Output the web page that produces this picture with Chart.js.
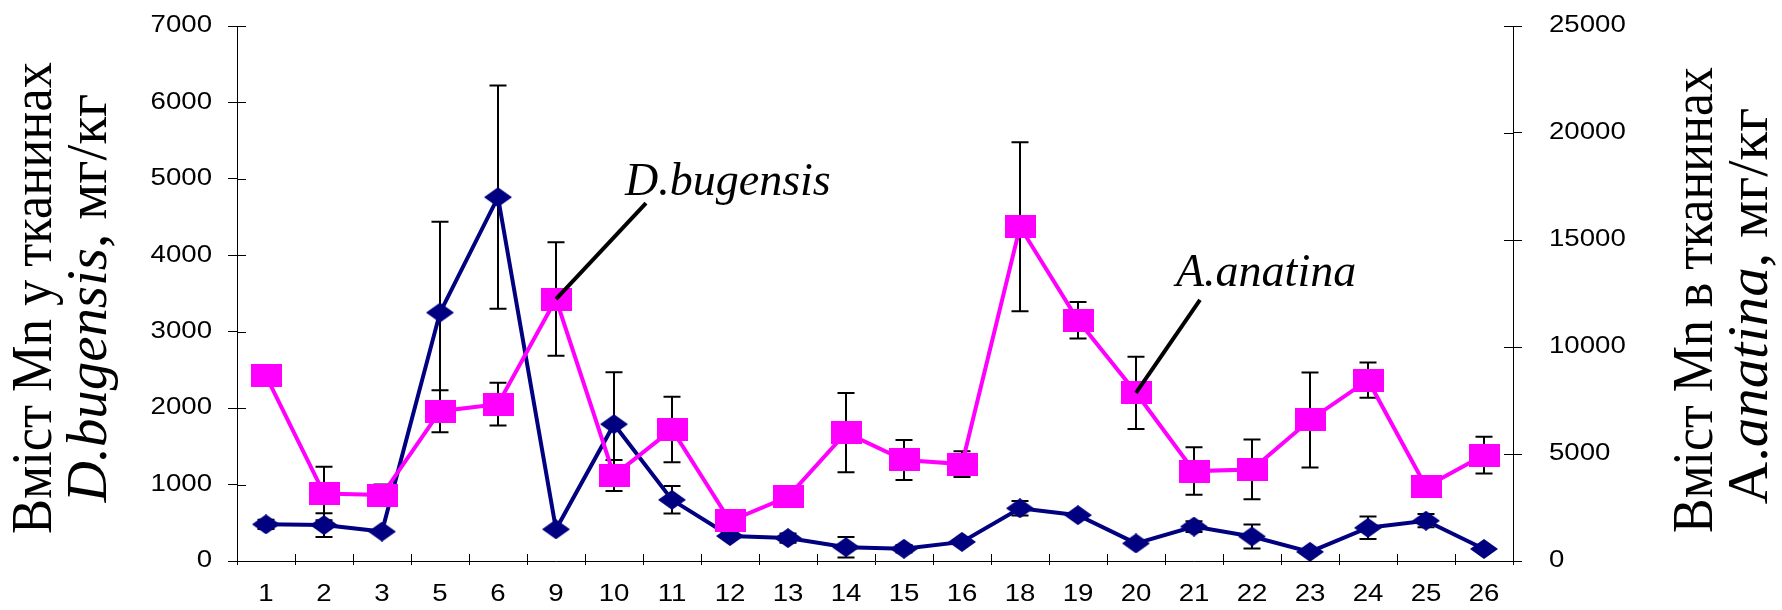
<!DOCTYPE html>
<html>
<head>
<meta charset="utf-8">
<script src="https://cdn.jsdelivr.net/npm/chart.js@4.4.1/dist/chart.umd.min.js"></script>
<style>
  html, body { margin: 0; padding: 0; background: #fff; }
  #wrap { width: 1782px; height: 610px; }
</style>
</head>
<body>
<div id="wrap"><canvas id="mn-chart" width="1782" height="610"></canvas></div>
<script>
// station numbers along the x axis
const stations = ['1', '2', '3', '5', '6', '9', '10', '11', '12', '13', '14', '15', '16', '18', '19', '20', '21', '22', '23', '24', '25', '26'];

// D.bugensis, left axis (mg/kg) and its error bars
const bugensisMn = [480, 470, 385, 3250, 4760, 415, 1790, 800, 327, 300, 180, 160, 250, 690, 600, 230, 450, 320, 120, 435, 527, 157];
const bugensisErr = [60, 155, 0, 1190, 1460, 0, 680, 180, 0, 60, 135, 50, 0, 95, 0, 0, 70, 157, 0, 146, 87, 0];

// A.anatina, right axis (mg/kg) and its error bars
const anatinaMn = [8650, 3150, 3080, 7000, 7330, 12240, 4000, 6150, 1870, 3000, 6000, 4720, 4530, 15620, 11250, 7860, 4200, 4280, 6590, 8450, 3470, 4950];
const anatinaErr = [0, 1250, 500, 980, 1000, 2650, 725, 1530, 0, 0, 1850, 935, 600, 3950, 850, 1690, 1110, 1400, 2220, 820, 0, 860];

// axis ranges
const leftMax = 7000, leftStep = 1000;
const rightMax = 25000, rightStep = 5000;

const NAVY = '#000080';
const MAGENTA = '#ff00ff';
const SERIF = '"Liberation Serif", "Times New Roman", serif';
const SANS = '"Liberation Sans", Arial, sans-serif';
const TICK_FONT = '23px ' + SANS;
const TICK_STRETCH = 1.2; // the source picture is a bit wide

function makeMarker(w, h, color, shape) {
  const c = document.createElement('canvas');
  c.width = w;
  c.height = h;
  const g = c.getContext('2d');
  g.fillStyle = color;
  if (shape === 'diamond') {
    g.beginPath();
    g.moveTo(w / 2, 0);
    g.lineTo(w, h / 2);
    g.lineTo(w / 2, h);
    g.lineTo(0, h / 2);
    g.closePath();
    g.fill();
  } else {
    g.fillRect(0, 0, w, h);
  }
  return c;
}

const diamond = makeMarker(28, 20, NAVY, 'diamond');
const square = makeMarker(31, 23, MAGENTA, 'rect');

// error bars, behind the markers
const errorBars = {
  id: 'errorBars',
  beforeDatasetsDraw(chart) {
    const ctx = chart.ctx;
    ctx.save();
    ctx.strokeStyle = '#000';
    ctx.lineWidth = 2;
    chart.data.datasets.forEach((ds, i) => {
      const meta = chart.getDatasetMeta(i);
      const scale = chart.scales[ds.yAxisID];
      ds.errors.forEach((e, j) => {
        if (!e) return;
        const x = meta.data[j].x;
        const top = scale.getPixelForValue(ds.data[j] + e);
        const bot = scale.getPixelForValue(ds.data[j] - e);
        ctx.beginPath();
        ctx.moveTo(x, top); ctx.lineTo(x, bot);
        ctx.moveTo(x - 8.5, top); ctx.lineTo(x + 8.5, top);
        ctx.moveTo(x - 8.5, bot); ctx.lineTo(x + 8.5, bot);
        ctx.stroke();
      });
    });
    ctx.restore();
  }
};

// tick marks that cross the axes (Chart.js only draws them outward)
const innerTicks = {
  id: 'innerTicks',
  afterDraw(chart) {
    const { ctx, chartArea, scales } = chart;
    ctx.save();
    ctx.strokeStyle = '#000';
    ctx.lineWidth = 1;
    ctx.beginPath();
    scales.y.ticks.forEach((t) => {
      const y = Math.round(scales.y.getPixelForValue(t.value)) + 0.5;
      ctx.moveTo(chartArea.left, y); ctx.lineTo(chartArea.left + 9, y);
    });
    scales.y2.ticks.forEach((t) => {
      const y = Math.round(scales.y2.getPixelForValue(t.value)) + 0.5;
      ctx.moveTo(chartArea.right - 9, y); ctx.lineTo(chartArea.right, y);
    });
    for (let k = 0; k <= stations.length; k++) {
      const x = Math.round(scales.x.getPixelForValue(k - 0.5)) + 0.5;
      ctx.moveTo(x, chartArea.bottom); ctx.lineTo(x, chartArea.bottom - 7);
    }
    ctx.stroke();
    ctx.restore();
  }
};

function stretchedText(ctx, text, x, y, align) {
  ctx.save();
  ctx.translate(x, y);
  ctx.scale(TICK_STRETCH, 1);
  ctx.textAlign = align;
  ctx.fillText(text, 0, 0);
  ctx.restore();
}

// tick labels, drawn a little wider than the font
const tickLabels = {
  id: 'tickLabels',
  afterDraw(chart) {
    const { ctx, chartArea, scales } = chart;
    ctx.save();
    ctx.font = TICK_FONT;
    ctx.fillStyle = '#000';
    ctx.textBaseline = 'middle';
    scales.y.ticks.forEach((t) => {
      stretchedText(ctx, String(t.value), chartArea.left - 25, scales.y.getPixelForValue(t.value), 'right');
    });
    scales.y2.ticks.forEach((t) => {
      stretchedText(ctx, String(t.value), chartArea.right + 36, scales.y2.getPixelForValue(t.value), 'left');
    });
    stations.forEach((s, i) => {
      stretchedText(ctx, s, scales.x.getPixelForValue(i), chartArea.bottom + 34, 'center');
    });
    ctx.restore();
  }
};

// rotated title line made of upright and italic runs
function drawRich(ctx, parts, baseX, centerY, lenScale, heightScale) {
  ctx.save();
  ctx.translate(baseX, centerY);
  ctx.rotate(-Math.PI / 2);
  ctx.scale(lenScale, heightScale);
  let total = 0;
  parts.forEach((p) => { ctx.font = p.font; total += ctx.measureText(p.text).width; });
  let x = -total / 2;
  ctx.textBaseline = 'alphabetic';
  ctx.textAlign = 'left';
  ctx.fillStyle = '#000';
  parts.forEach((p) => {
    ctx.font = p.font;
    ctx.fillText(p.text, x, 0);
    x += ctx.measureText(p.text).width;
  });
  ctx.restore();
}

const axisTitles = {
  id: 'axisTitles',
  afterDraw(chart) {
    const ctx = chart.ctx;
    const up = '49px ' + SERIF;
    const it = 'italic 49px ' + SERIF;
    drawRich(ctx, [{ text: 'Вміст Mn у тканинах', font: up }], 51, 298, 1.07, 1.15);
    drawRich(ctx, [{ text: 'D.bugensis', font: it }, { text: ', мг/кг', font: up }], 106, 298, 1.16, 1.15);
    drawRich(ctx, [{ text: 'Вміст Mn в тканинах', font: up }], 1712, 300, 1.06, 1.15);
    drawRich(ctx, [{ text: 'A.', font: up }, { text: 'anatina', font: it }, { text: ', мг/кг', font: up }], 1767, 306, 1.2, 1.15);
  }
};

// species labels with leader lines to a point of the magenta series
const callouts = {
  id: 'callouts',
  afterDatasetsDraw(chart) {
    const ctx = chart.ctx;
    const items = [
      { ds: 0, idx: 5, text: 'D.bugensis', line: [90, -96], label: [69, -104] },
      { ds: 0, idx: 15, text: 'A.anatina', line: [64, -93], label: [40, -107] }
    ];
    ctx.save();
    items.forEach((c) => {
      const pt = chart.getDatasetMeta(c.ds).data[c.idx];
      ctx.strokeStyle = '#000';
      ctx.lineWidth = 4;
      ctx.beginPath();
      ctx.moveTo(pt.x + c.line[0], pt.y + c.line[1]);
      ctx.lineTo(pt.x, pt.y);
      ctx.stroke();
      ctx.font = 'italic 46px ' + SERIF;
      ctx.fillStyle = '#000';
      ctx.textBaseline = 'alphabetic';
      ctx.fillText(c.text, pt.x + c.label[0], pt.y + c.label[1]);
    });
    ctx.restore();
  }
};

// fixed axis sizes, and no label padding pushing the plot area down
function fixVertical(width) {
  return (s) => {
    s.width = width;
    s.paddingTop = 0;
    s.paddingBottom = 0;
  };
}

new Chart(document.getElementById('mn-chart'), {
  type: 'line',
  data: {
    labels: stations,
    datasets: [
      {
        label: 'A.anatina',
        data: anatinaMn,
        errors: anatinaErr,
        yAxisID: 'y2',
        borderColor: MAGENTA,
        borderWidth: 4,
        pointStyle: square,
        pointRadius: 12,
        tension: 0,
        order: 0
      },
      {
        label: 'D.bugensis',
        data: bugensisMn,
        errors: bugensisErr,
        yAxisID: 'y',
        borderColor: NAVY,
        borderWidth: 4,
        pointStyle: diamond,
        pointRadius: 12,
        tension: 0,
        order: 1
      }
    ]
  },
  options: {
    responsive: false,
    animation: false,
    devicePixelRatio: 1,
    layout: { autoPadding: false, padding: { top: 26, left: 0, right: 0, bottom: 0 } },
    plugins: { legend: { display: false }, tooltip: { enabled: false } },
    scales: {
      x: {
        offset: true,
        grid: { drawOnChartArea: false, tickLength: 4, color: '#000', offset: true },
        border: { color: '#000', width: 1 },
        ticks: { display: false, autoSkip: false },
        afterFit(s) { s.height = 49; s.paddingLeft = 0; s.paddingRight = 0; }
      },
      y: {
        position: 'left',
        min: 0, max: leftMax,
        grid: { drawOnChartArea: false, tickLength: 9, color: '#000' },
        border: { color: '#000', width: 1 },
        ticks: { display: false, stepSize: leftStep },
        afterFit: fixVertical(237)
      },
      y2: {
        position: 'right',
        min: 0, max: rightMax,
        grid: { drawOnChartArea: false, tickLength: 9, color: '#000' },
        border: { color: '#000', width: 1 },
        ticks: { display: false, stepSize: rightStep },
        afterFit: fixVertical(269)
      }
    }
  },
  plugins: [errorBars, innerTicks, tickLabels, axisTitles, callouts]
});
</script>
</body>
</html>
